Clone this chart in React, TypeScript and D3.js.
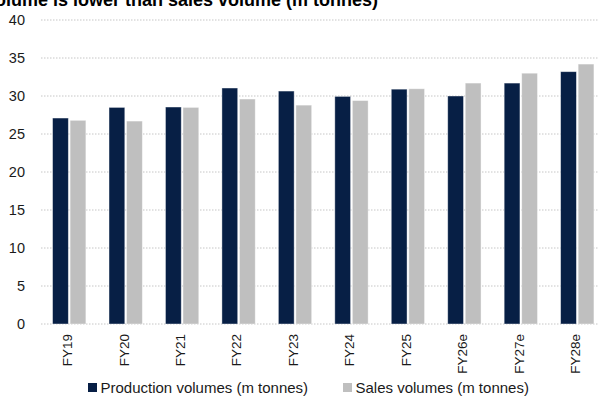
import React from "react";
import * as d3 from "d3";

const categories = ["FY19", "FY20", "FY21", "FY22", "FY23", "FY24", "FY25", "FY26e", "FY27e", "FY28e"];
const production = [27.1, 28.5, 28.55, 31.05, 30.65, 29.95, 30.9, 30.0, 31.7, 33.2];
const sales = [26.8, 26.7, 28.5, 29.6, 28.8, 29.4, 30.95, 31.7, 33.0, 34.2];
const yTicks = [0, 5, 10, 15, 20, 25, 30, 35, 40];
const seriesNames = ["Production volumes (m tonnes)", "Sales volumes (m tonnes)"];
const title = "Production volume is lower than sales volume (m tonnes)";

const W = 598;
const H = 399;
const colors = ["#071F45", "#BFBFBF"];

export default function App() {
  const x = d3.scaleBand<string>().domain(categories).range([41, 605.5]).paddingInner(0.41).paddingOuter(0.205);
  const inner = d3.scaleBand<number>().domain([0, 1]).range([0, x.bandwidth()]).paddingInner(0.1);
  const y = d3.scaleLinear().domain([0, 40]).range([324, 20]);
  const series = [production, sales];
  const font = "'Liberation Sans', Arial, sans-serif";

  return (
    <svg width={W} height={H} style={{ position: "absolute", left: 0, top: 0, background: "#fff" }} fontFamily={font}>
      <text x={378} y={6} textAnchor="end" fontSize={18} fontWeight="bold" fill="#000">{title}</text>
      {yTicks.map((t) => (
        <g key={t}>
          <line x1={41} x2={W} y1={y(t)} y2={y(t)} stroke="#c6c6c6" strokeWidth={1} strokeDasharray="1.5,1.5" />
          <text x={25} y={y(t)} dy="0.36em" textAnchor="end" fontSize={14.5} fill="#1a1a1a">{t}</text>
        </g>
      ))}
      {categories.map((c, i) => (
        <g key={c}>
          {series.map((s, j) => (
            <rect
              key={j}
              x={(x(c) as number) + (inner(j) as number)}
              y={y(s[i])}
              width={inner.bandwidth()}
              height={y(0) - y(s[i])}
              fill={colors[j]}
              stroke="#ffffff"
              strokeOpacity={0.5}
              strokeWidth={0.8}
            />
          ))}
          <text
            transform={`translate(${(x(c) as number) + x.bandwidth() / 2 - 2},334) rotate(-90)`}
            textAnchor="end"
            dy="0.36em"
            fontSize={13.5}
            fill="#1a1a1a"
          >
            {c}
          </text>
        </g>
      ))}
      {seriesNames.map((n, j) => {
        const lx = j === 0 ? 88 : 343;
        return (
          <g key={n}>
            <rect x={lx} y={383} width={9} height={9} fill={colors[j]} />
            <text x={lx + 12.5} y={392.5} fontSize={15} fill="#1a1a1a">{n}</text>
          </g>
        );
      })}
    </svg>
  );
}
